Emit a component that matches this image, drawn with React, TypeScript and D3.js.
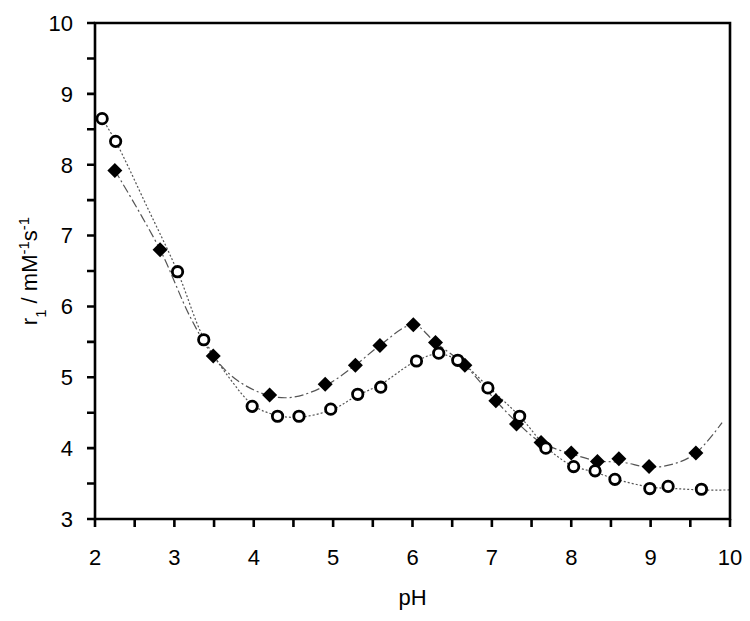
import * as d3 from "d3";

// measured points, open circles
const openPH = [2.09, 2.26, 3.04, 3.37, 3.98, 4.3, 4.57, 4.97, 5.31, 5.6, 6.05, 6.33, 6.57, 6.95, 7.35, 7.68, 8.03, 8.3, 8.55, 8.99, 9.22, 9.64];
const openR1 = [8.65, 8.33, 6.49, 5.53, 4.59, 4.45, 4.45, 4.55, 4.76, 4.86, 5.23, 5.34, 5.24, 4.85, 4.45, 4.0, 3.74, 3.68, 3.56, 3.43, 3.46, 3.42];

// measured points, filled diamonds
const filledPH = [2.25, 2.82, 3.49, 4.2, 4.9, 5.28, 5.59, 6.01, 6.29, 6.66, 7.05, 7.31, 7.62, 8.0, 8.33, 8.6, 8.98, 9.57];
const filledR1 = [7.92, 6.8, 5.3, 4.75, 4.9, 5.17, 5.45, 5.74, 5.49, 5.17, 4.67, 4.34, 4.08, 3.93, 3.81, 3.85, 3.74, 3.93];

// fitted curves
const openFitPH = [2.09, 2.26, 2.65, 3.04, 3.37, 3.7, 4.0, 4.3, 4.6, 5.0, 5.3, 5.6, 6.0, 6.32, 6.6, 6.95, 7.35, 7.7, 8.0, 8.3, 8.6, 9.0, 9.3, 9.64, 10];
const openFitR1 = [8.65, 8.33, 7.42, 6.49, 5.55, 4.98, 4.6, 4.46, 4.44, 4.55, 4.74, 4.9, 5.2, 5.33, 5.22, 4.87, 4.45, 4.0, 3.76, 3.66, 3.55, 3.45, 3.43, 3.41, 3.41];

const filledFitPH = [2.25, 2.82, 3.2, 3.49, 3.8, 4.2, 4.5, 4.9, 5.28, 5.59, 6.01, 6.29, 6.66, 7.05, 7.31, 7.62, 8.0, 8.33, 8.65, 8.98, 9.3, 9.57, 9.9];
const filledFitR1 = [7.92, 6.8, 5.85, 5.3, 4.95, 4.74, 4.72, 4.88, 5.17, 5.45, 5.74, 5.49, 5.17, 4.67, 4.37, 4.08, 3.92, 3.82, 3.8, 3.73, 3.78, 3.93, 4.36];

const xMajor = [2, 3, 4, 5, 6, 7, 8, 9, 10];
const yMajor = [3, 4, 5, 6, 7, 8, 9, 10];

const width = 750;
const height = 621;
const margin = { top: 23, right: 20, bottom: 102, left: 95 };
const plotW = width - margin.left - margin.right;
const plotH = height - margin.top - margin.bottom;
const font = "'Liberation Sans', Arial, sans-serif";

export default function App() {
    const x = d3.scaleLinear().domain([2, 10]).range([margin.left, margin.left + plotW]);
    const y = d3.scaleLinear().domain([3, 10]).range([margin.top + plotH, margin.top]);

    const line = d3
        .line<[number, number]>()
        .x(d => x(d[0]))
        .y(d => y(d[1]))
        .curve(d3.curveCatmullRom.alpha(0.5));

    const openFit = line(openFitPH.map((p, i) => [p, openFitR1[i]] as [number, number])) || "";
    const filledFit = line(filledFitPH.map((p, i) => [p, filledFitR1[i]] as [number, number])) || "";

    const left = margin.left;
    const right = margin.left + plotW;
    const top = margin.top;
    const bottom = margin.top + plotH;
    const tk = 8;
    const w = 1.3; // half line width

    // frame and ticks drawn as filled bars
    const bar = (x0: number, y0: number, x1: number, y1: number) =>
        `M${x0},${y0}H${x1}V${y1}H${x0}Z`;
    const framePath =
        bar(left - w, top - w, right + w, bottom + w) + bar(left + w, top + w, right - w, bottom - w);
    const ticksPath =
        d3.range(2, 10.01, 0.5).map(t => bar(x(t) - w, bottom, x(t) + w, bottom + tk)).join("") +
        d3.range(3, 10.01, 0.5).map(t => bar(left - tk, y(t) - w, left, y(t) + w)).join("");
    const dm = 7.5; // diamond half-diagonal

    return (
        <div style={{ position: "absolute", left: 0, top: 0, background: "#fff" }}>
            <svg width={width} height={height} style={{ display: "block" }} fontFamily={font}>
                <path d={openFit} fill="none" stroke="#555" strokeWidth={1.2} strokeDasharray="2,2" />
                <path d={filledFit} fill="none" stroke="#555" strokeWidth={1.2} strokeDasharray="9,3,2,3" />

                <path d={framePath} fill="#000" fillRule="evenodd" />
                <path d={ticksPath} fill="#000" />

                {xMajor.map(t => (
                    <text key={"xl" + t} x={x(t)} y={bottom + 46} textAnchor="middle" fontSize={22} fill="#000">
                        {t}
                    </text>
                ))}
                {yMajor.map(t => (
                    <text key={"yl" + t} x={left - 22} y={y(t)} dy="0.36em" textAnchor="end" fontSize={22} fill="#000">
                        {t}
                    </text>
                ))}

                {filledPH.map((p, i) => (
                    <path
                        key={"d" + i}
                        d={`M${x(p)},${y(filledR1[i]) - dm}L${x(p) + dm},${y(filledR1[i])}L${x(p)},${y(filledR1[i]) + dm}L${x(p) - dm},${y(filledR1[i])}Z`}
                        fill="#000"
                    />
                ))}
                {openPH.map((p, i) => (
                    <circle key={"c" + i} cx={x(p)} cy={y(openR1[i])} r={5.2} fill="#fff" stroke="#000" strokeWidth={2.8} />
                ))}

                <text x={left + plotW / 2} y={605} textAnchor="middle" fontSize={22} fill="#000">
                    pH
                </text>
                <text transform={`translate(37,${top + plotH / 2}) rotate(-90)`} textAnchor="middle" fontSize={22} fill="#000">
                    <tspan>r</tspan>
                    <tspan baselineShift="sub" fontSize={15}>1</tspan>
                    <tspan> / mM</tspan>
                    <tspan baselineShift="super" fontSize={15}>-1</tspan>
                    <tspan>s</tspan>
                    <tspan baselineShift="super" fontSize={15}>-1</tspan>
                </text>
            </svg>
        </div>
    );
}
